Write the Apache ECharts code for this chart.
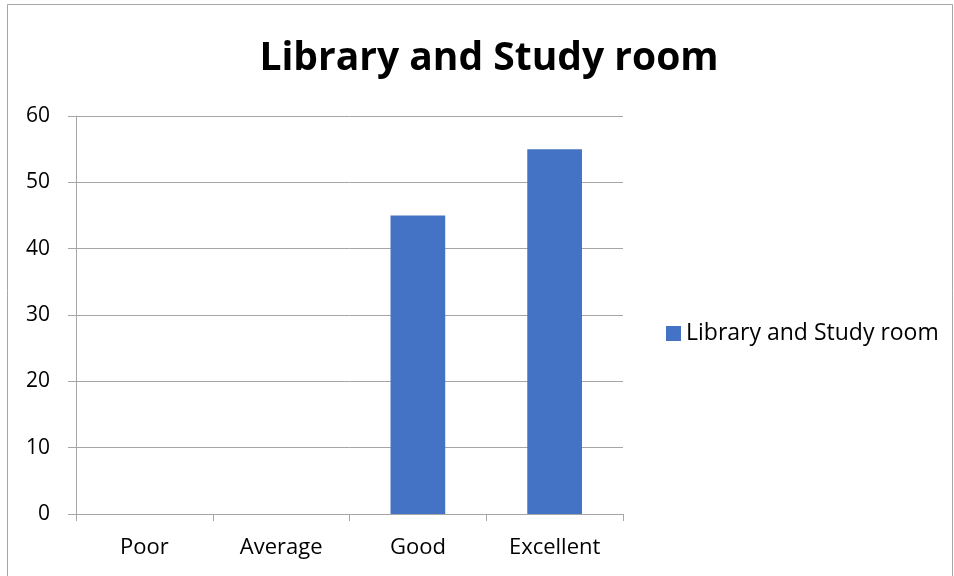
<!DOCTYPE html>
<html>
<head>
<meta charset="utf-8">
<script src="https://cdn.jsdelivr.net/npm/echarts@6/dist/echarts.min.js"></script>
<style>
  html, body { margin: 0; padding: 0; background: #fff; }
  #chart { width: 954px; height: 576px; }
</style>
</head>
<body>
<div id="chart"></div>
<script>
/* 数据 */
const categories = ['Poor', 'Average', 'Good', 'Excellent'];
const values = [0, 0, 45, 55];
const seriesName = 'Library and Study room';
const titleText = 'Library and Study room';

const font = '"Open Sans", "Noto Sans", sans-serif';
const gridColor = '#a6a6a6';

const chart = echarts.init(document.getElementById('chart'));
chart.setOption({
    backgroundColor: '#fff',
    animation: false,
    textStyle: { fontFamily: font },
    graphic: [{
        type: 'rect',
        shape: { x: 7.5, y: 4.5, width: 945, height: 580 },
        style: { fill: 'none', stroke: '#a6a6a6', lineWidth: 1 },
        silent: true
    }],
    title: {
        text: titleText,
        left: 484,
        textAlign: 'center',
        top: 34,
        textStyle: { fontSize: 39, fontWeight: 'bold', color: '#000', fontFamily: font }
    },
    legend: {
        data: [seriesName],
        left: 661,
        top: 317,
        itemWidth: 15,
        itemHeight: 15,
        icon: 'rect',
        itemGap: 6,
        textStyle: { fontSize: 23, color: '#000', fontFamily: font }
    },
    grid: { left: 76, right: 331, top: 116, bottom: 62, containLabel: false },
    xAxis: {
        type: 'category',
        data: categories,
        axisLine: { lineStyle: { color: gridColor } },
        axisTick: { show: true, length: 7, lineStyle: { color: gridColor } },
        axisLabel: { color: '#000', fontSize: 22, margin: 23 }
    },
    yAxis: {
        type: 'value',
        min: 0,
        max: 60,
        interval: 10,
        axisLine: { show: true, lineStyle: { color: gridColor } },
        axisTick: { show: true, length: 8, lineStyle: { color: gridColor } },
        axisLabel: { color: '#000', fontSize: 21, margin: 26 },
        splitLine: { lineStyle: { color: gridColor } }
    },
    series: [{
        name: seriesName,
        type: 'bar',
        data: values,
        barWidth: '40%',
        itemStyle: { color: '#4472c4' }
    }]
});
</script>
</body>
</html>
